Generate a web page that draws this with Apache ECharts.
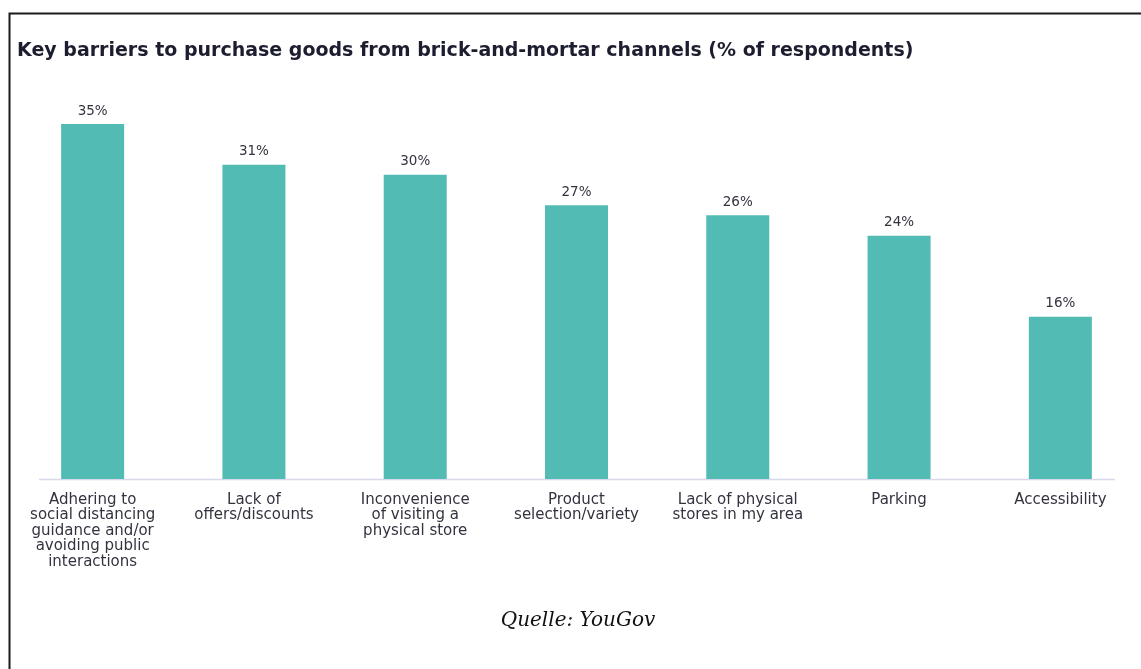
<!DOCTYPE html>
<html>
<head>
<meta charset="utf-8">
<style>
  html, body { margin: 0; padding: 0; background: #fff; }
  #chart { width: 1141px; height: 669px; }
</style>
<script src="https://cdn.jsdelivr.net/npm/echarts@6/dist/echarts.min.js"></script>
</head>
<body>
<div id="chart"></div>
<script>
// Survey answers: share of respondents naming each barrier
const categories = [
  'Adhering to\nsocial distancing\nguidance and/or\navoiding public\ninteractions',
  'Lack of\noffers/discounts',
  'Inconvenience\nof visiting a\nphysical store',
  'Product\nselection/variety',
  'Lack of physical\nstores in my area',
  'Parking',
  'Accessibility'
];
const shares = [35, 31, 30, 27, 26, 24, 16];
const titleText = 'Key barriers to purchase goods from brick-and-mortar channels (% of respondents)';
const sourceText = 'Quelle: YouGov';

const chart = echarts.init(document.getElementById('chart'));
chart.setOption({
  backgroundColor: '#ffffff',
  animation: false,
  title: {
    text: titleText,
    left: 12,
    top: 37,
    textStyle: {
      fontFamily: 'DejaVu Sans',
      fontWeight: 'bold',
      fontSize: 19,
      color: '#1d1d30'
    }
  },
  grid: {
    left: 12,
    right: -2,
    top: 73.4,
    bottom: 190
  },
  xAxis: {
    type: 'category',
    data: categories,
    axisLine: { show: false },
    axisTick: { show: false },
    axisLabel: {
      interval: 0,
      margin: 13,
      fontFamily: 'DejaVu Sans',
      fontSize: 15,
      lineHeight: 15.5,
      color: '#333340'
    }
  },
  yAxis: {
    type: 'value',
    min: 0,
    max: 40,
    show: false,
    splitLine: { show: false }
  },
  series: [{
    type: 'bar',
    data: shares,
    barWidth: 63,
    itemStyle: { color: '#52bbb4' },
    label: {
      show: true,
      position: 'top',
      distance: 6,
      formatter: '{c}%',
      fontFamily: 'DejaVu Sans',
      fontSize: 13.5,
      color: '#333340'
    }
  }],
  graphic: [
    {
      type: 'line',
      shape: { x1: 39, y1: 479.5, x2: 1115, y2: 479.5 },
      style: { stroke: '#d8d8ec', lineWidth: 1.5 },
      z: 0
    },
    {
      type: 'rect',
      shape: { x: 9.5, y: 13.5, width: 1300, height: 800 },
      style: { fill: null, stroke: '#1a1a1a', lineWidth: 2 },
      silent: true
    },
    {
      type: 'text',
      x: 578,
      y: 611,
      style: {
        text: sourceText,
        align: 'center',
        fontFamily: 'DejaVu Serif',
        fontStyle: 'italic',
        fontSize: 20,
        fill: '#111111'
      }
    }
  ]
});
</script>
</body>
</html>
